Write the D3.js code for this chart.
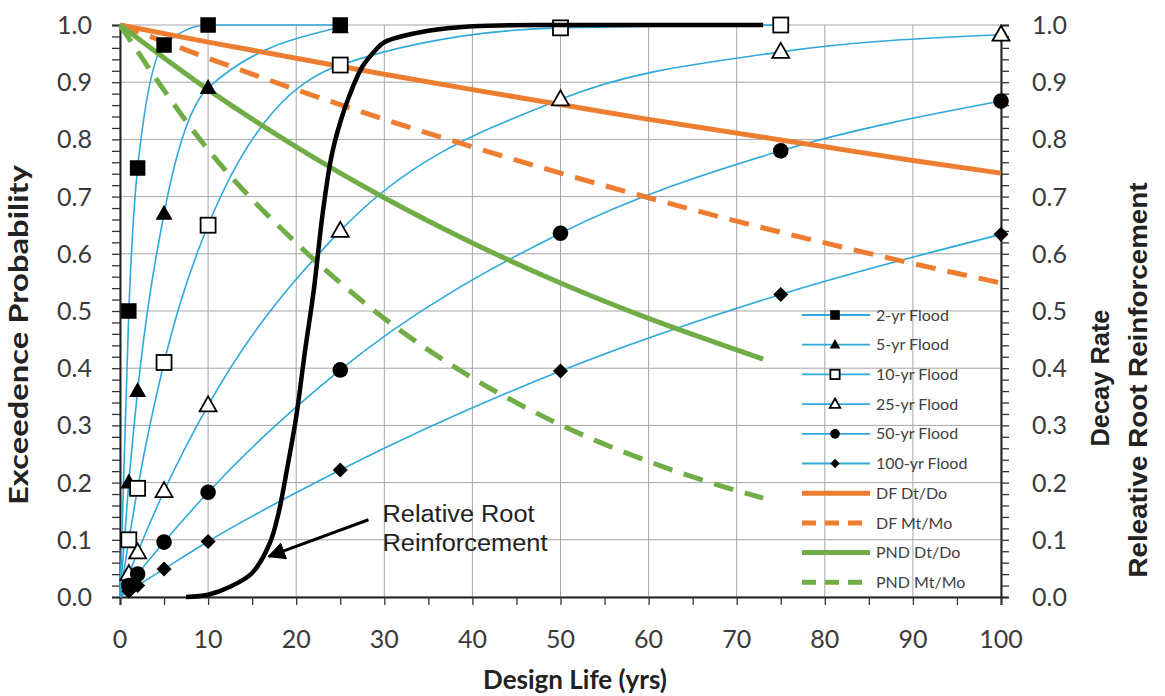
<!DOCTYPE html>
<html><head><meta charset="utf-8">
<script src="https://cdn.jsdelivr.net/npm/d3@7"></script>
<style>
body{margin:0;background:#fff;}
svg{display:block;}
</style></head>
<body>
<svg id="chart" width="1165" height="696"></svg>
<script>
// ---------- data ----------
const floodYears = [0, 1, 2, 5, 10, 25, 50, 75, 100];
const flood2   = [0, 0.50, 0.75, 0.965, 1.0, 1.0];
const flood5   = [0, 0.20, 0.36, 0.67, 0.89, 0.996];
const flood10  = [0, 0.10, 0.19, 0.41, 0.65, 0.93, 0.995, 1.0];
const flood25  = [0, 0.04, 0.078, 0.185, 0.335, 0.64, 0.87, 0.953, 0.983];
const flood50  = [0, 0.02, 0.04, 0.096, 0.183, 0.397, 0.636, 0.78, 0.867];
const flood100 = [0, 0.01, 0.02, 0.049, 0.097, 0.222, 0.395, 0.529, 0.634];
const floodNames = ["2-yr Flood", "5-yr Flood", "10-yr Flood", "25-yr Flood", "50-yr Flood", "100-yr Flood"];
const floodMarkers = ["square", "triangle", "squareOpen", "triangleOpen", "circle", "diamond"];

const dfYears = [0, 10, 20, 30, 40, 50, 60, 70, 80, 90, 100];
const dfDt = [1, 0.970, 0.942, 0.914, 0.887, 0.861, 0.835, 0.811, 0.787, 0.763, 0.741];
const dfMt = [1, 0.942, 0.887, 0.835, 0.787, 0.741, 0.698, 0.657, 0.619, 0.583, 0.549];
const pndYears = [0, 10, 20, 30, 40, 50, 60, 70, 73];
const pndDt = [1, 0.887, 0.787, 0.698, 0.619, 0.549, 0.487, 0.432, 0.416];
const pndMt = [1, 0.782, 0.619, 0.487, 0.383, 0.301, 0.237, 0.186, 0.173];
const decayNames = ["DF Dt/Do", "DF Mt/Mo", "PND Dt/Do", "PND Mt/Mo"];

const rootYears = [7.5, 10, 12.5, 15, 17, 18, 19, 20, 21, 22, 23, 24, 25, 26, 27.5, 29, 30, 35, 40, 50, 60, 73];
const rootVals  = [0, 0.004, 0.018, 0.042, 0.094, 0.147, 0.227, 0.315, 0.43, 0.537, 0.67, 0.77, 0.83, 0.875, 0.927, 0.956, 0.97, 0.99, 0.998, 1, 1, 1];

const xTicks = [0, 10, 20, 30, 40, 50, 60, 70, 80, 90, 100];
const yTicks = [0, 0.1, 0.2, 0.3, 0.4, 0.5, 0.6, 0.7, 0.8, 0.9, 1.0];

// ---------- layout ----------
const svg = d3.select("#chart");
const L = 120, R = 1001, T = 25, B = 597;
const x = d3.scaleLinear().domain([0, 100]).range([L, R]);
const y = d3.scaleLinear().domain([0, 1]).range([B, T]);

const cyan = "#2fa9dc", orange = "#ED7D31", green = "#70AD47";
const tickFont = "Lato, 'Open Sans', sans-serif";
const arialFont = "'Liberation Sans', Arial, sans-serif";

// gridlines
const grid = svg.append("g");
grid.selectAll("line.h").data(yTicks).join("line")
  .attr("x1", L).attr("x2", R).attr("y1", d => y(d)).attr("y2", d => y(d))
  .attr("stroke", "#a6a6a6").attr("stroke-width", 1);
grid.selectAll("line.v").data(xTicks).join("line")
  .attr("y1", T).attr("y2", B).attr("x1", d => x(d)).attr("x2", d => x(d))
  .attr("stroke", "#a6a6a6").attr("stroke-width", 1);

// axes
const minorY = d3.range(0, 1.0001, 0.02);
const minorX = d3.range(0, 100.001, 5);
const axL = svg.append("g").attr("transform", `translate(${L},0)`)
  .call(d3.axisLeft(y).tickValues(minorY).tickSize(8).tickFormat(""));
const axR = svg.append("g").attr("transform", `translate(${R},0)`)
  .call(d3.axisRight(y).tickValues(minorY).tickSize(8).tickFormat(""));
const axB = svg.append("g").attr("transform", `translate(0,${B})`)
  .call(d3.axisBottom(x).tickValues(minorX).tickSize(8).tickFormat(""));
[axL, axR, axB].forEach(a => {
  a.select(".domain").attr("stroke", "#222").attr("stroke-width", 2);
  a.selectAll(".tick line").attr("stroke", "#333").attr("stroke-width", 1.3);
});
// labels
svg.append("g").selectAll("text").data(yTicks).join("text")
  .attr("x", L - 28).attr("y", d => y(d)).attr("dy", "0.36em")
  .attr("text-anchor", "end").attr("font-family", tickFont).attr("font-size", 25)
  .attr("fill", "#3a3a3a").text(d => d.toFixed(1));
svg.append("g").selectAll("text").data(yTicks).join("text")
  .attr("x", R + 31).attr("y", d => y(d)).attr("dy", "0.36em")
  .attr("text-anchor", "start").attr("font-family", tickFont).attr("font-size", 25)
  .attr("fill", "#3a3a3a").text(d => d.toFixed(1));
svg.append("g").selectAll("text").data(xTicks).join("text")
  .attr("x", d => x(d)).attr("y", B + 51)
  .attr("text-anchor", "middle").attr("font-family", tickFont).attr("font-size", 25)
  .attr("fill", "#3a3a3a").text(d => d);

// titles
svg.append("text").attr("x", 575).attr("y", 689).attr("text-anchor", "middle")
  .attr("font-family", tickFont).attr("font-weight", "bold").attr("font-size", 26)
  .attr("fill", "#222").text("Design Life (yrs)");
svg.append("text").attr("transform", "translate(28,335) rotate(-90)").attr("text-anchor", "middle")
  .attr("font-family", tickFont).attr("font-weight", "bold").attr("font-size", 27)
  .attr("textLength", 340).attr("lengthAdjust", "spacingAndGlyphs")
  .attr("fill", "#222").text("Exceedence Probability");
svg.append("text").attr("transform", "translate(1109,378) rotate(-90)").attr("text-anchor", "middle")
  .attr("font-family", arialFont).attr("font-weight", "bold").attr("font-size", 26)
  .attr("textLength", 137).attr("lengthAdjust", "spacingAndGlyphs")
  .attr("fill", "#222").text("Decay Rate");
svg.append("text").attr("transform", "translate(1147,380) rotate(-90)").attr("text-anchor", "middle")
  .attr("font-family", arialFont).attr("font-weight", "bold").attr("font-size", 26)
  .attr("textLength", 395).attr("lengthAdjust", "spacingAndGlyphs")
  .attr("fill", "#222").text("Releative Root Reinforcement");

// ---------- series ----------
const line = d3.line().x(d => x(d[0])).y(d => y(d[1])).curve(d3.curveMonotoneX);
const zip = (xs, ys) => ys.map((v, i) => [xs[i], v]);

const floodSeries = [flood2, flood5, flood10, flood25, flood50, flood100];

// flood lines
const gF = svg.append("g");
floodSeries.forEach(s => {
  gF.append("path").attr("d", line(zip(floodYears, s)))
    .attr("fill", "none").attr("stroke", cyan).attr("stroke-width", 1.6);
});

// decay lines
const decay = [
  {xs: dfYears, ys: dfDt, c: orange, dash: null},
  {xs: dfYears, ys: dfMt, c: orange, dash: "20,12"},
  {xs: pndYears, ys: pndDt, c: green, dash: null},
  {xs: pndYears, ys: pndMt, c: green, dash: "20,12"}
];
const gD = svg.append("g");
decay.forEach(s => {
  gD.append("path").attr("d", line(zip(s.xs, s.ys)))
    .attr("fill", "none").attr("stroke", s.c).attr("stroke-width", 5)
    .attr("stroke-dasharray", s.dash);
});

// markers
function marker(g, type, cx, cy, scale) {
  const k = scale || 1;
  if (type === "square") {
    const s = 15.5 * k;
    g.append("rect").attr("x", cx - s/2).attr("y", cy - s/2).attr("width", s).attr("height", s).attr("fill", "#000");
  } else if (type === "squareOpen") {
    const s = 15 * k;
    g.append("rect").attr("x", cx - s/2).attr("y", cy - s/2).attr("width", s).attr("height", s)
      .attr("fill", "#fff").attr("stroke", "#000").attr("stroke-width", 1.8);
  } else if (type === "triangle" || type === "triangleOpen") {
    const w = 17 * k, h = 15 * k;
    const p = [[cx, cy - h*0.6], [cx + w/2, cy + h*0.4], [cx - w/2, cy + h*0.4]];
    g.append("polygon").attr("points", p.map(q => q.join(",")).join(" "))
      .attr("fill", type === "triangle" ? "#000" : "#fff").attr("stroke", "#000").attr("stroke-width", type === "triangle" ? 0 : 1.8);
  } else if (type === "circle") {
    g.append("circle").attr("cx", cx).attr("cy", cy).attr("r", 7.8 * k).attr("fill", "#000");
  } else if (type === "diamond") {
    const s = 7.5 * k;
    const p = [[cx, cy - s], [cx + s, cy], [cx, cy + s], [cx - s, cy]];
    g.append("polygon").attr("points", p.map(q => q.join(",")).join(" ")).attr("fill", "#000");
  }
}
const gM = svg.append("g");
floodSeries.forEach((s, si) => {
  s.forEach((v, i) => {
    if (i === 0) return;
    marker(gM, floodMarkers[si], x(floodYears[i]), y(v));
  });
});

// relative root reinforcement
svg.append("path").attr("d", d3.line().x(d => x(d[0])).y(d => y(d[1])).curve(d3.curveCatmullRom.alpha(0.5))(zip(rootYears, rootVals)))
  .attr("fill", "none").attr("stroke", "#000").attr("stroke-width", 4.5);

// annotation
const defs = svg.append("defs");
defs.append("marker").attr("id", "arr").attr("viewBox", "0 0 10 10").attr("refX", 9).attr("refY", 5)
  .attr("markerWidth", 6).attr("markerHeight", 6).attr("orient", "auto")
  .append("path").attr("d", "M0,0 L10,5 L0,10 Z").attr("fill", "#000");
svg.append("line").attr("x1", x(28.2)).attr("y1", y(0.135)).attr("x2", x(16.9)).attr("y2", y(0.071))
  .attr("stroke", "#000").attr("stroke-width", 3).attr("marker-end", "url(#arr)");
const ann = svg.append("g").attr("font-family", arialFont).attr("font-size", 23).attr("fill", "#222");
ann.append("text").attr("x", x(29.8)).attr("y", y(0.131)).attr("textLength", 152).attr("lengthAdjust", "spacingAndGlyphs").text("Relative Root");
ann.append("text").attr("x", x(29.8)).attr("y", y(0.08)).attr("textLength", 165).attr("lengthAdjust", "spacingAndGlyphs").text("Reinforcement");

// ---------- legend ----------
const lg = svg.append("g");
const legY0 = 315, legDy = 29.7, lx1 = 802, lx2 = 870, lmx = 835, ltx = 876;
floodNames.forEach((n, i) => {
  const yy = legY0 + i * legDy;
  lg.append("line").attr("x1", lx1).attr("x2", lx2).attr("y1", yy).attr("y2", yy).attr("stroke", cyan).attr("stroke-width", 1.8);
  marker(lg, floodMarkers[i], lmx, yy, 0.62);
  lg.append("text").attr("x", ltx).attr("y", yy).attr("dy", "0.35em").attr("font-family", tickFont)
    .attr("font-size", 16).attr("fill", "#404040").text(n);
});
decayNames.forEach((n, j) => {
  const yy = legY0 + (6 + j) * legDy;
  const d = decay[j];
  lg.append("line").attr("x1", lx1).attr("x2", lx2).attr("y1", yy).attr("y2", yy).attr("stroke", d.c)
    .attr("stroke-width", 5).attr("stroke-dasharray", d.dash ? "14,9" : null);
  lg.append("text").attr("x", ltx).attr("y", yy).attr("dy", "0.35em").attr("font-family", tickFont)
    .attr("font-size", 16).attr("fill", "#404040").text(n);
});
</script>
</body></html>
